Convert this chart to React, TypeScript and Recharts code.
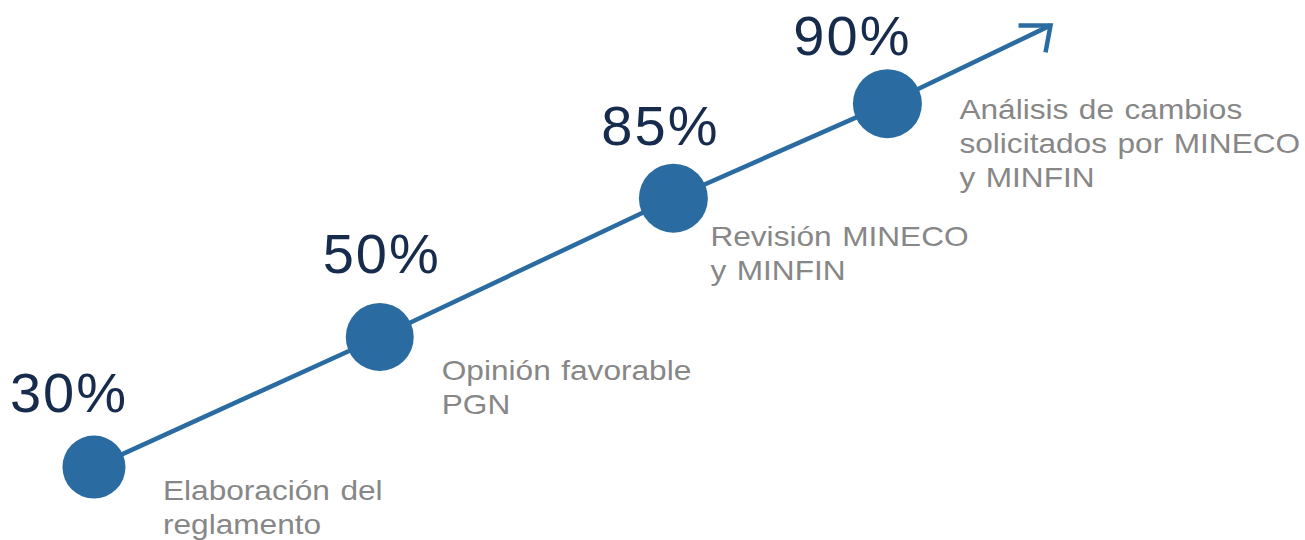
import { ComposedChart, Line, Scatter, XAxis, YAxis } from "recharts";

// milestones along the timeline (x, y in % of the drawing area)
const stageX = [7.2, 29.1, 51.6, 68.0];
const stageY = [13.5, 37.6, 63.3, 80.8];
const stagePct = [30, 50, 85, 90];
const stageText = [
  ["Elaboración del", "reglamento"],
  ["Opinión favorable", "PGN"],
  ["Revisión MINECO", "y MINFIN"],
  ["Análisis de cambios", "solicitados por MINECO", "y MINFIN"],
];
// end of the arrow
const arrowX = 80.5;
const arrowY = 95.3;

const BLUE = "#2A6CA1";
const NAVY = "#172B4D";
const GRAY = "#878787";
const FONT = "'Liberation Sans', Arial, sans-serif";

// layout tweaks per stage: dot radius, percent label and caption offsets (px)
const dotR = [31.5, 34, 34.5, 34.5];
const pctOffset = [
  [-25, -55],
  [2, -64],
  [-13, -53],
  [-35, -49],
];
const captionOffset = [
  [69, 33],
  [62, 43],
  [37, 48],
  [72, 15],
];

const lineData = [
  ...stageX.map((x, i) => ({ x, y: stageY[i] })),
  { x: arrowX, y: arrowY },
];

const stageData = stageX.map((x, i) => ({
  x,
  y: stageY[i],
  idx: i,
  pct: stagePct[i],
  text: stageText[i],
}));

function StageMark(props: any) {
  const { cx, cy, payload } = props;
  const i = payload.idx;
  const [px, py] = pctOffset[i];
  const [tx, ty] = captionOffset[i];
  return (
    <g>
      <circle cx={cx} cy={cy} r={dotR[i]} fill={BLUE} />
      <text
        x={cx + px}
        y={cy + py}
        textAnchor="middle"
        fontFamily={FONT}
        fontSize={56}
        letterSpacing={2}
        fill={NAVY}
      >
        {payload.pct}%
      </text>
      {/* captions in the source are stretched a bit horizontally */}
      <text
        transform={`translate(${cx + tx},${cy + ty}) scale(1.15,1)`}
        fontFamily={FONT}
        fontSize={27.5}
        wordSpacing={1.5}
        fill={GRAY}
      >
        {payload.text.map((t: string, k: number) => (
          <tspan key={k} x={0} dy={k === 0 ? 0 : 34}>
            {t}
          </tspan>
        ))}
      </text>
    </g>
  );
}

function ArrowDot(props: any) {
  const { cx, cy, index } = props;
  if (index !== lineData.length - 1) return <g key={index} />;
  return (
    <path
      key={index}
      d={`M${cx - 32},${cy} L${cx},${cy} L${cx - 5},${cy + 27}`}
      fill="none"
      stroke={BLUE}
      strokeWidth={4.5}
    />
  );
}

export default function App() {
  return (
    <div style={{ position: "absolute", left: 0, top: 0, width: 1305, height: 540, background: "#fff" }}>
      <ComposedChart width={1305} height={540} margin={{ top: 0, right: 0, bottom: 0, left: 0 }}>
        <XAxis type="number" dataKey="x" domain={[0, 100]} hide />
        <YAxis type="number" dataKey="y" domain={[0, 100]} hide />
        <Line
          data={lineData}
          dataKey="y"
          type="linear"
          stroke={BLUE}
          strokeWidth={4.5}
          dot={ArrowDot}
          activeDot={false}
          isAnimationActive={false}
        />
        <Scatter data={stageData} dataKey="y" shape={StageMark} isAnimationActive={false} />
      </ComposedChart>
    </div>
  );
}
